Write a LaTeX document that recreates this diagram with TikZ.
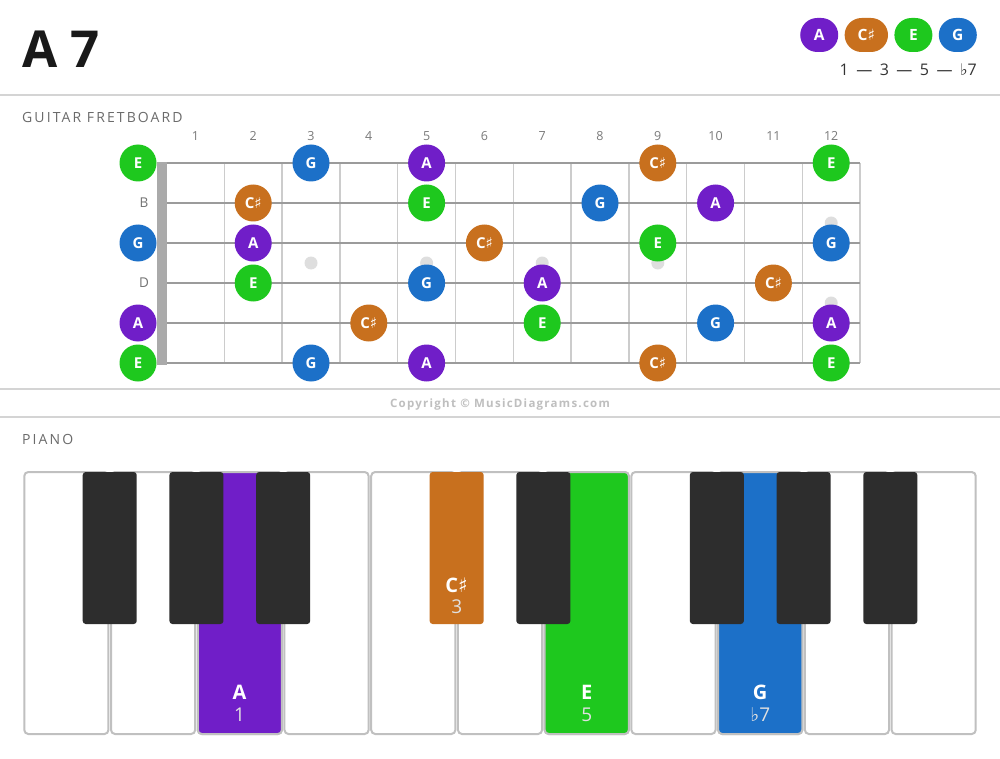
\documentclass[tikz,border=0pt]{standalone}
\usepackage{fontspec}
\setmainfont{Open Sans}
\newfontfamily\musicsym{DejaVu Sans}
\newfontfamily\headfont{Open Sans}[LetterSpace=15]
\newfontfamily\copyfont{Open Sans}[LetterSpace=11]
\usepackage{xcolor}
\usepackage{tikz}
\usetikzlibrary{positioning}

\definecolor{noteA}{RGB}{112,30,200}
\definecolor{noteCs}{RGB}{200,112,30}
\definecolor{noteE}{RGB}{30,200,30}
\definecolor{noteG}{RGB}{28,112,200}
\definecolor{rulegray}{RGB}{212,212,212}
\definecolor{stringgray}{RGB}{155,155,155}
\definecolor{fretgray}{RGB}{204,204,204}
\definecolor{nutgray}{RGB}{170,170,170}
\definecolor{dotgray}{RGB}{222,222,222}
\definecolor{keyblack}{RGB}{45,45,45}
\definecolor{keyline}{RGB}{192,192,192}

\newcommand{\shp}{{\musicsym ♯}}
\newcommand{\flt}{{\musicsym ♭}}
\newcommand{\dsh}{\hspace{7.5pt}—\hspace{7.5pt}}

\begin{document}
\begin{tikzpicture}[
    x=1pt, y=-1pt,
    every node/.style = {inner sep=0pt},
    note/.style = {circle, minimum size=37pt, text=white,
      font=\fontsize{15}{18}\selectfont\bfseries},
    nA/.style = {note, fill=noteA},
    nCs/.style = {note, fill=noteCs},
    nE/.style = {note, fill=noteE},
    nG/.style = {note, fill=noteG},
    pill/.style = {rectangle, rounded corners=17pt, minimum height=34pt,
      minimum width=38pt, inner xsep=13pt, text=white,
      font=\fontsize{15.5}{18}\selectfont\bfseries},
    heading/.style = {anchor=base west, text=black!58,
      font=\fontsize{14}{17}\headfont},
    fretnum/.style = {text=black!52, font=\fontsize{12.5}{15}\selectfont},
    strname/.style = {text=black!55, font=\fontsize{13.5}{16}\selectfont},
    keyname/.style = {text=white, font=\fontsize{20}{24}\selectfont\bfseries},
    keydeg/.style = {text=white!88!black, font=\fontsize{19}{22}\selectfont},
    divider/.style = {rulegray, line width=2pt},
    fret/.style = {fretgray, line width=1.4pt},
    whitekey/.style = {keyline, line width=2pt, rounded corners=4pt, fill=white}
  ]
  \useasboundingbox (0,0) rectangle (1000,759);
  \fill[white] (0,0) rectangle (1000,759);

  % 标题
  \node[anchor=base west, text=black!90,
    font=\fontsize{51}{60}\selectfont\bfseries] (title) at (22,68) {A 7};
  \node[pill, fill=noteG, anchor=east] (lgG) at (977,35) {G};
  \node[pill, fill=noteE, left=6pt of lgG] (lgE) {E};
  \node[pill, fill=noteCs, left=6pt of lgE] (lgCs) {C\shp};
  \node[pill, fill=noteA, left=6pt of lgCs] (lgA) {A};
  \node[anchor=east, text=black!80, font=\fontsize{16}{19}\selectfont]
    (lgiv) at (977,70) {1\dsh 3\dsh 5\dsh\flt7};
  \draw[divider] (0,95) -- (1000,95);

  % 指板
  \node[heading] (fbtitle) at (22,123) {GUITAR FRETBOARD};
  \foreach \n in {1,...,12}
    \node[fretnum] (fn\n) at ({166.5+57.8*(\n-0.5)},136) {\n};
  \foreach \n in {1,...,12}
    \draw[fret] ({166.5+57.8*\n},163) -- ({166.5+57.8*\n},363);
  \foreach \y/\w in {163/1.8, 203/2.0, 243/2.2, 283/2.4, 323/2.6, 363/2.8}
    \draw[stringgray, line width=\w pt] (157,\y) -- (860,\y);
  \fill[nutgray] (157,162) rectangle (167,365);
  \foreach \x in {311,426.6,542.2,657.8}
    \fill[dotgray] (\x,263) circle (6.5);
  \fill[dotgray] (831.2,223) circle (6.5);
  \fill[dotgray] (831.2,303) circle (6.5);

  \node[nE]  (s1o)   at (138,163)   {E};
  \node[nG]  (s1f3)  at (311,163)   {G};
  \node[nA]  (s1f5)  at (426.6,163) {A};
  \node[nCs] (s1f9)  at (657.8,163) {C\shp};
  \node[nE]  (s1f12) at (831.2,163) {E};

  \node[strname] (s2o) at (144,203) {B};
  \node[nCs] (s2f2)  at (253.2,203) {C\shp};
  \node[nE]  (s2f5)  at (426.6,203) {E};
  \node[nG]  (s2f8)  at (600,203)   {G};
  \node[nA]  (s2f10) at (715.6,203) {A};

  \node[nG]  (s3o)   at (138,243)   {G};
  \node[nA]  (s3f2)  at (253.2,243) {A};
  \node[nCs] (s3f6)  at (484.4,243) {C\shp};
  \node[nE]  (s3f9)  at (657.8,243) {E};
  \node[nG]  (s3f12) at (831.2,243) {G};

  \node[strname] (s4o) at (144,283) {D};
  \node[nE]  (s4f2)  at (253.2,283) {E};
  \node[nG]  (s4f5)  at (426.6,283) {G};
  \node[nA]  (s4f7)  at (542.2,283) {A};
  \node[nCs] (s4f11) at (773.4,283) {C\shp};

  \node[nA]  (s5o)   at (138,323)   {A};
  \node[nCs] (s5f4)  at (368.8,323) {C\shp};
  \node[nE]  (s5f7)  at (542.2,323) {E};
  \node[nG]  (s5f10) at (715.6,323) {G};
  \node[nA]  (s5f12) at (831.2,323) {A};

  \node[nE]  (s6o)   at (138,363)   {E};
  \node[nG]  (s6f3)  at (311,363)   {G};
  \node[nA]  (s6f5)  at (426.6,363) {A};
  \node[nCs] (s6f9)  at (657.8,363) {C\shp};
  \node[nE]  (s6f12) at (831.2,363) {E};

  \draw[divider] (0,389) -- (1000,389);
  \node[text=black!25, font=\fontsize{11.5}{14}\copyfont\bfseries]
    (copy) at (500,405) {Copyright © MusicDiagrams.com};
  \draw[divider] (0,417) -- (1000,417);

  % 钢琴
  \node[heading] (pntitle) at (22,444) {PIANO};
  \foreach \i in {0,...,10}
    \draw[whitekey] ({23+86.73*\i+1.3},472) rectangle ({23+86.73*(\i+1)-1.3},734);
  \draw[whitekey, fill=noteA] ({23+86.73*2+1.3},472) rectangle ({23+86.73*3-1.3},734);
  \draw[whitekey, fill=noteE] ({23+86.73*6+1.3},472) rectangle ({23+86.73*7-1.3},734);
  \draw[whitekey, fill=noteG] ({23+86.73*8+1.3},472) rectangle ({23+86.73*9-1.3},734);
  \foreach \k in {1,2,3,6,8,9,10}
    \fill[keyblack, rounded corners=3pt] ({23+86.73*\k-27},472) rectangle ({23+86.73*\k+27},624);
  \fill[noteCs, rounded corners=3pt] ({23+86.73*5-27},472) rectangle ({23+86.73*5+27},624);

  \node[keyname] (pkA)  at (239.6,692) {A};
  \node[keydeg]  (pdA)  at (239.6,715) {1};
  \node[keyname] (pkCs) at (456.7,585) {C\shp};
  \node[keydeg]  (pdCs) at (456.7,607) {3};
  \node[keyname] (pkE)  at (586.7,692) {E};
  \node[keydeg]  (pdE)  at (586.7,715) {5};
  \node[keyname] (pkG)  at (760.2,692) {G};
  \node[keydeg]  (pdG)  at (760.2,715) {\flt7};
\end{tikzpicture}
\end{document}
